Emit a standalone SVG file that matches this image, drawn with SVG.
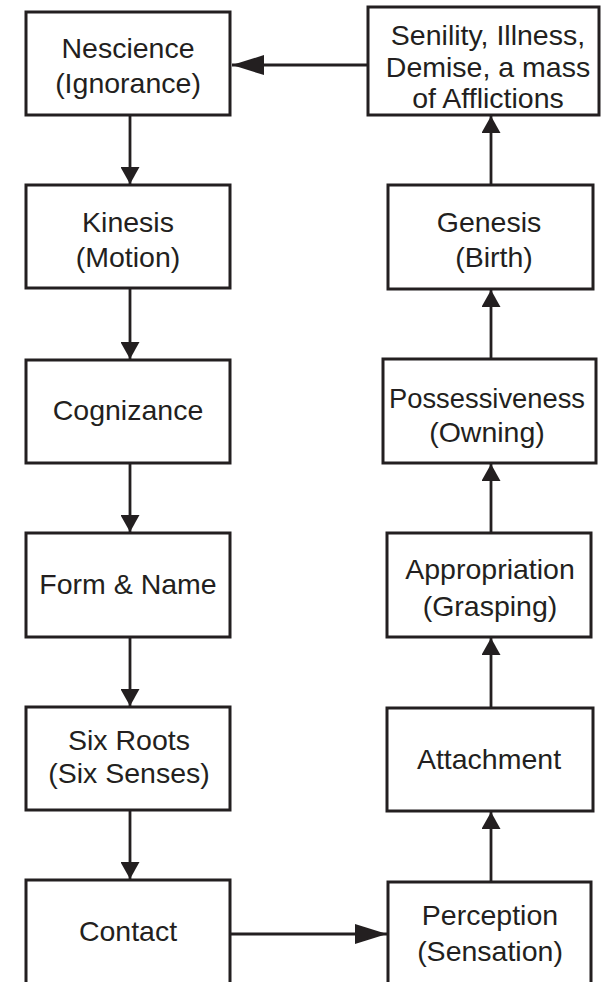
<svg xmlns="http://www.w3.org/2000/svg" width="601" height="982" viewBox="0 0 601 982">
<style>
.box{fill:#fff;stroke:#231f20;stroke-width:3}
.lbl{font-family:"Liberation Sans",Arial,sans-serif;font-size:28.5px;fill:#231f20;text-anchor:middle}
.con{stroke:#231f20;stroke-width:2.8;fill:none}
</style>
<defs>
<marker id="ah" viewBox="0 0 17 19" refX="17" refY="9.5" markerWidth="17" markerHeight="19" markerUnits="userSpaceOnUse" orient="auto">
<path d="M0,0 L17,9.5 L0,19 z" fill="#231f20"/>
</marker>
<marker id="ahL" viewBox="0 0 32 20" refX="32" refY="10" markerWidth="32" markerHeight="20" markerUnits="userSpaceOnUse" orient="auto">
<path d="M0,0 L32,10 L0,20 z" fill="#231f20"/>
</marker>
</defs>
<g id="connectors">
<line class="con" x1="368" y1="65" x2="232" y2="65" marker-end="url(#ahL)"/>
<line class="con" x1="130" y1="115" x2="130" y2="184" marker-end="url(#ah)"/>
<line class="con" x1="130" y1="288" x2="130" y2="359" marker-end="url(#ah)"/>
<line class="con" x1="130" y1="463" x2="130" y2="532" marker-end="url(#ah)"/>
<line class="con" x1="130" y1="637" x2="130" y2="706" marker-end="url(#ah)"/>
<line class="con" x1="130" y1="810" x2="130" y2="879" marker-end="url(#ah)"/>
<line class="con" x1="230" y1="934" x2="387" y2="934" marker-end="url(#ahL)"/>
<line class="con" x1="491" y1="882" x2="491" y2="812" marker-end="url(#ah)"/>
<line class="con" x1="491" y1="708" x2="491" y2="638" marker-end="url(#ah)"/>
<line class="con" x1="491" y1="533" x2="491" y2="464" marker-end="url(#ah)"/>
<line class="con" x1="491" y1="359" x2="491" y2="290" marker-end="url(#ah)"/>
<line class="con" x1="491" y1="185" x2="491" y2="116" marker-end="url(#ah)"/>
</g>
<g id="nescience"><rect class="box" x="26" y="12" width="204" height="103"/><text class="lbl" x="128" y="58">Nescience</text><text class="lbl" x="128" y="93">(Ignorance)</text></g>
<g id="kinesis"><rect class="box" x="26" y="185" width="204" height="103"/><text class="lbl" x="128" y="232">Kinesis</text><text class="lbl" x="128" y="267">(Motion)</text></g>
<g id="cognizance"><rect class="box" x="26" y="360" width="204" height="103"/><text class="lbl" x="128" y="420">Cognizance</text></g>
<g id="formname"><rect class="box" x="26" y="533" width="204" height="104"/><text class="lbl" x="128" y="594">Form &amp; Name</text></g>
<g id="sixroots"><rect class="box" x="26" y="707" width="204" height="103"/><text class="lbl" x="129" y="750">Six Roots</text><text class="lbl" x="129" y="783">(Six Senses)</text></g>
<g id="contact"><rect class="box" x="26" y="880" width="204" height="120"/><text class="lbl" x="128" y="941">Contact</text></g>
<g id="perception"><rect class="box" x="388" y="882" width="203" height="120"/><text class="lbl" x="490" y="925">Perception</text><text class="lbl" x="490" y="961">(Sensation)</text></g>
<g id="attachment"><rect class="box" x="387" y="708" width="206" height="103"/><text class="lbl" x="489" y="769">Attachment</text></g>
<g id="appropriation"><rect class="box" x="387" y="533" width="204" height="104"/><text class="lbl" x="490" y="579">Appropriation</text><text class="lbl" x="490" y="616">(Grasping)</text></g>
<g id="possessiveness"><rect class="box" x="383" y="359" width="213" height="104"/><text class="lbl" x="487" y="408" textLength="196" lengthAdjust="spacingAndGlyphs">Possessiveness</text><text class="lbl" x="487" y="442">(Owning)</text></g>
<g id="genesis"><rect class="box" x="388" y="185" width="205" height="104"/><text class="lbl" x="489" y="232">Genesis</text><text class="lbl" x="494" y="267">(Birth)</text></g>
<g id="senility"><rect class="box" x="368" y="7" width="231" height="108"/><text class="lbl" x="488" y="45">Senility, Illness,</text><text class="lbl" x="488" y="77">Demise, a mass</text><text class="lbl" x="488" y="108">of Afflictions</text></g>
</svg>
